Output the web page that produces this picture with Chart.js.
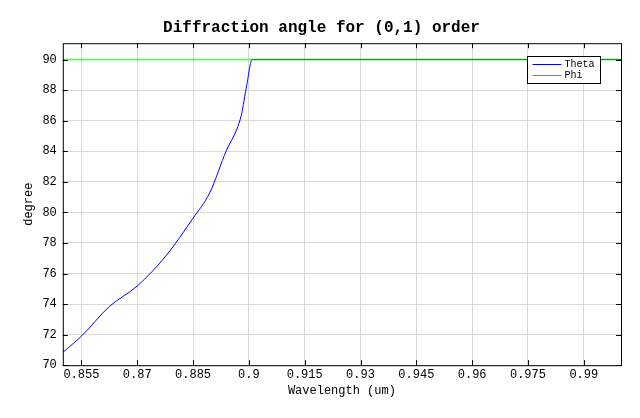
<!DOCTYPE html>
<html>
<head>
<meta charset="utf-8">
<script src="https://cdn.jsdelivr.net/npm/chart.js@4"></script>
<style>
  body { margin: 0; background: #fff; }
  #wrap { width: 640px; height: 418px; }
</style>
</head>
<body>
<div id="wrap"><canvas id="myChart"></canvas></div>
<script>
// values
const wavelength = [0.85, 0.855, 0.8625, 0.87, 0.8778, 0.885, 0.8895, 0.894, 0.8967, 0.898, 0.8994, 0.9009, 1.0];
const theta      = [70.84, 71.9, 73.84, 75.18, 77.18, 79.62, 81.29, 84.07, 85.4, 86.4, 88.29, 90, 90];
const phiX       = [0.85, 1.0];
const phi        = [90, 90];
const xTicks     = [0.855, 0.87, 0.885, 0.9, 0.915, 0.93, 0.945, 0.96, 0.975, 0.99];
const yTicks     = [70, 72, 74, 76, 78, 80, 82, 84, 86, 88, 90];

const FONT = "'Liberation Mono', 'DejaVu Sans Mono', monospace";

// frame, inward ticks and boxed legend
const framePlugin = {
    id: 'frame',
    afterDraw(chart) {
        const ctx = chart.ctx;
        const a = chart.chartArea;
        const xs = chart.scales.x, ys = chart.scales.y;
        ctx.save();
        ctx.strokeStyle = '#000';
        ctx.lineWidth = 1;
        ctx.strokeRect(a.left + 0.5, a.top + 0.5, a.right - a.left, a.bottom - a.top);
        ctx.beginPath();
        for (const t of xTicks) {
            const px = Math.round(xs.getPixelForValue(t)) + 0.5;
            ctx.moveTo(px, a.bottom); ctx.lineTo(px, a.bottom - 5);
            ctx.moveTo(px, a.top); ctx.lineTo(px, a.top + 5);
        }
        for (const t of yTicks) {
            const py = Math.round(ys.getPixelForValue(t)) + 0.5;
            ctx.moveTo(a.left, py); ctx.lineTo(a.left + 5, py);
            ctx.moveTo(a.right, py); ctx.lineTo(a.right - 5, py);
        }
        ctx.stroke();

        // legend
        const lx = 527.5, ly = 56.5, lw = 73, lh = 27;
        ctx.fillStyle = '#fff';
        ctx.fillRect(lx, ly, lw, lh);
        ctx.strokeRect(lx, ly, lw, lh);
        const items = [['Theta', 'blue'], ['Phi', '#00e000']];
        items.forEach(([label, color], i) => {
            const y = ly + 8 + i * 11;
            ctx.strokeStyle = color;
            ctx.beginPath(); ctx.moveTo(lx + 5, y); ctx.lineTo(lx + 34, y); ctx.stroke();
            ctx.fillStyle = '#000';
            ctx.font = '10px ' + FONT;
            ctx.textBaseline = 'middle';
            ctx.fillText(label, lx + 37, y);
        });
        ctx.restore();
    }
};

const config = {
    type: 'line',
    data: {
        datasets: [
            {
                label: 'Theta',
                data: wavelength.map((x, i) => ({ x: x, y: theta[i] })),
                borderColor: 'blue',
                borderWidth: 1,
                pointRadius: 0,
                cubicInterpolationMode: 'monotone',
                order: 2
            },
            {
                label: 'Phi',
                data: phiX.map((x, i) => ({ x: x, y: phi[i] })),
                borderColor: 'rgba(0,255,0,0.5)',
                borderWidth: 2,
                pointRadius: 0,
                order: 1
            }
        ]
    },
    options: {
        responsive: true,
        maintainAspectRatio: false,
        animation: false,
        layout: { padding: { left: 22, right: 19, top: 4, bottom: 20 } },
        plugins: {
            legend: { display: false },
            tooltip: { enabled: false },
            title: {
                display: true,
                text: 'Diffraction angle for (0,1) order',
                color: '#000',
                font: { family: FONT, size: 16, weight: 'bold' },
                padding: { top: 14, bottom: 6 }
            }
        },
        scales: {
            x: {
                type: 'linear',
                min: 0.85,
                max: 1.0,
                afterBuildTicks: (axis) => { axis.ticks = xTicks.map(v => ({ value: v })); },
                ticks: {
                    color: '#000',
                    font: { family: FONT, size: 12 },
                    maxRotation: 0,
                    padding: 2,
                    callback: (v) => String(+v.toFixed(3))
                },
                grid: { color: '#d9d9d9', tickLength: 0 },
                border: { display: false },
                title: {
                    display: true,
                    text: 'Wavelength (um)',
                    color: '#000',
                    font: { family: FONT, size: 12 },
                    padding: { top: 0, bottom: 0 }
                }
            },
            y: {
                min: 70,
                max: 91.07,
                afterBuildTicks: (axis) => { axis.ticks = yTicks.map(v => ({ value: v })); },
                ticks: {
                    color: '#000',
                    font: { family: FONT, size: 12 },
                    padding: 6
                },
                grid: { color: '#d9d9d9', tickLength: 0 },
                border: { display: false },
                title: {
                    display: true,
                    text: 'degree',
                    color: '#000',
                    font: { family: FONT, size: 12 },
                    padding: { top: 0, bottom: 0 }
                }
            }
        }
    },
    plugins: [framePlugin]
};

const myChart = new Chart(document.getElementById('myChart'), config);
</script>
</body>
</html>
